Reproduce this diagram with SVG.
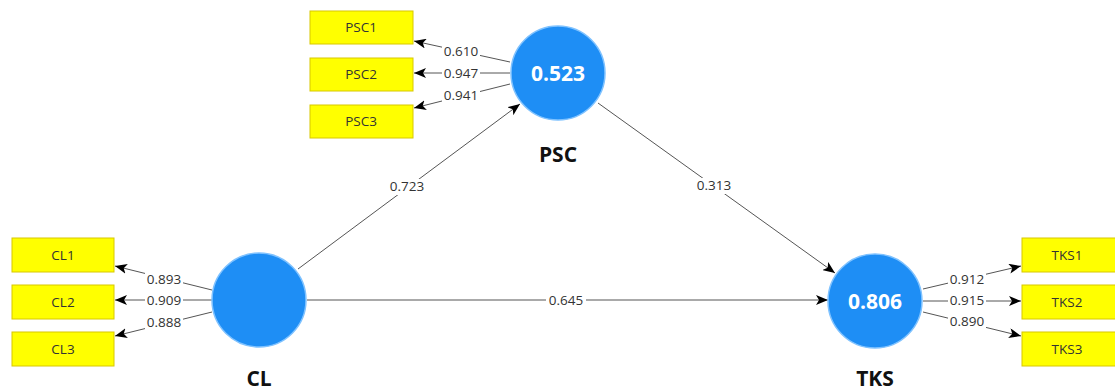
<svg xmlns="http://www.w3.org/2000/svg" width="1115" height="391" viewBox="0 0 1115 391">
<style>
.box{fill:#ffff00;stroke:#d8c800;stroke-width:1}
.bt{font-family:"Open Sans","Noto Sans",sans-serif;font-size:13.5px;fill:#333;text-anchor:middle}
.lv{fill:#1e8ef5;stroke:#7fc2ff;stroke-width:1.5}
.vt{font-family:"Open Sans","Noto Sans",sans-serif;font-size:21px;font-weight:bold;fill:#fff;text-anchor:middle}
.nt{font-family:"Open Sans","Noto Sans",sans-serif;font-size:21px;font-weight:bold;fill:#111;text-anchor:middle}
.ln{stroke:#555;stroke-width:1;fill:none;marker-end:url(#ah)}
.lb{fill:#fff}
.lt{font-family:"Open Sans","Noto Sans",sans-serif;font-size:13.5px;fill:#333;text-anchor:middle}
</style>
<defs>
<marker id="ah" viewBox="0 0 12 10" refX="12" refY="5" markerWidth="12" markerHeight="10" markerUnits="userSpaceOnUse" orient="auto">
<path d="M0,0 L12,5 L0,10 L3,5 Z" fill="#000"/>
</marker>
</defs>
<g id="connectors">
<line class="ln" x1="510" y1="62" x2="414" y2="41"/>
<line class="ln" x1="510" y1="73" x2="414" y2="73"/>
<line class="ln" x1="510" y1="84" x2="414" y2="108"/>
<line class="ln" x1="212" y1="290" x2="115" y2="266"/>
<line class="ln" x1="212" y1="300" x2="115" y2="300"/>
<line class="ln" x1="212" y1="312" x2="115" y2="336"/>
<line class="ln" x1="923" y1="289" x2="1021" y2="266"/>
<line class="ln" x1="923" y1="301" x2="1021" y2="301"/>
<line class="ln" x1="923" y1="312" x2="1021" y2="336"/>
<line class="ln" x1="298" y1="269" x2="520" y2="104"/>
<line class="ln" x1="598" y1="103" x2="835" y2="273"/>
<line class="ln" x1="307" y1="300" x2="828" y2="300"/>
<rect class="lb" x="442" y="44" width="38" height="15"/><text class="lt" x="461" y="56">0.610</text>
<rect class="lb" x="442" y="66" width="38" height="15"/><text class="lt" x="461" y="78">0.947</text>
<rect class="lb" x="442" y="88" width="38" height="15"/><text class="lt" x="461" y="100">0.941</text>
<rect class="lb" x="145" y="272" width="38" height="15"/><text class="lt" x="164" y="284">0.893</text>
<rect class="lb" x="145" y="293" width="38" height="15"/><text class="lt" x="164" y="305">0.909</text>
<rect class="lb" x="145" y="315" width="38" height="15"/><text class="lt" x="164" y="327">0.888</text>
<rect class="lb" x="948" y="272" width="38" height="15"/><text class="lt" x="967" y="284">0.912</text>
<rect class="lb" x="948" y="293" width="38" height="15"/><text class="lt" x="967" y="305">0.915</text>
<rect class="lb" x="948" y="314" width="38" height="15"/><text class="lt" x="967" y="326">0.890</text>
<rect class="lb" x="387" y="179" width="40" height="16"/><text class="lt" x="407" y="191">0.723</text>
<rect class="lb" x="694" y="178" width="40" height="16"/><text class="lt" x="714" y="190">0.313</text>
<rect class="lb" x="546" y="293" width="40" height="15"/><text class="lt" x="566" y="305">0.645</text>
</g>
<g id="PSC">
<circle class="lv" cx="558" cy="73" r="47"/>
<text class="vt" x="558" y="81">0.523</text>
<text class="nt" x="558" y="162">PSC</text>
</g>
<g id="CL">
<circle class="lv" cx="259" cy="300" r="47"/>
<text class="nt" x="259" y="386">CL</text>
</g>
<g id="TKS">
<circle class="lv" cx="875" cy="301" r="47"/>
<text class="vt" x="875" y="309">0.806</text>
<text class="nt" x="875" y="386">TKS</text>
</g>
<g id="PSC1"><rect class="box" x="310" y="11" width="103" height="33"/><text class="bt" x="361" y="32">PSC1</text></g>
<g id="PSC2"><rect class="box" x="310" y="58" width="103" height="33"/><text class="bt" x="361" y="79">PSC2</text></g>
<g id="PSC3"><rect class="box" x="310" y="105" width="103" height="33"/><text class="bt" x="361" y="126">PSC3</text></g>
<g id="CL1"><rect class="box" x="12" y="238" width="102" height="34"/><text class="bt" x="63" y="260">CL1</text></g>
<g id="CL2"><rect class="box" x="12" y="285" width="102" height="34"/><text class="bt" x="63" y="307">CL2</text></g>
<g id="CL3"><rect class="box" x="12" y="332" width="102" height="34"/><text class="bt" x="63" y="354">CL3</text></g>
<g id="TKS1"><rect class="box" x="1022" y="238" width="103" height="34"/><text class="bt" x="1067" y="260">TKS1</text></g>
<g id="TKS2"><rect class="box" x="1022" y="285" width="103" height="34"/><text class="bt" x="1067" y="307">TKS2</text></g>
<g id="TKS3"><rect class="box" x="1022" y="332" width="103" height="34"/><text class="bt" x="1067" y="354">TKS3</text></g>
</svg>
